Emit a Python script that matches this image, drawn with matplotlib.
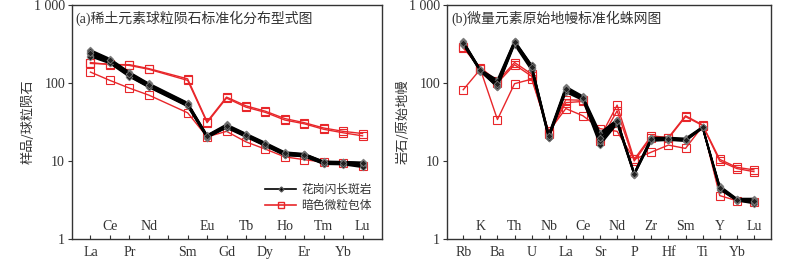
import matplotlib
matplotlib.use("Agg")
import matplotlib.pyplot as plt
import matplotlib.transforms as mtransforms
from matplotlib.lines import Line2D

# ---------------- data ----------------
ree_positions = [0, 1, 2, 3, 5, 6, 7, 8, 9, 10, 11, 12, 13, 14]   # Pm slot (4) left empty
ree_elems = ["La", "Ce", "Pr", "Nd", "Sm", "Eu", "Gd", "Tb", "Dy", "Ho", "Er", "Tm", "Yb", "Lu"]

ree_gdp = [
    [265, 205, 138, 99, 56, 21.5, 29.5, 22.5, 17.2, 13.0, 12.4, 9.9, 9.8, 9.6],
    [250, 198, 133, 96, 55, 21.0, 28.5, 22.0, 16.8, 12.7, 12.2, 9.7, 9.6, 9.4],
    [240, 192, 128, 93, 53, 20.5, 28.0, 21.5, 16.4, 12.4, 12.0, 9.5, 9.5, 9.2],
    [232, 188, 125, 91, 52, 20.0, 27.5, 21.0, 16.0, 12.1, 11.7, 9.3, 9.3, 9.0],
    [225, 182, 122, 89, 51, 19.8, 27.0, 20.6, 15.7, 11.9, 11.5, 9.2, 9.1, 8.6],
    [258, 200, 135, 97, 54, 21.2, 28.8, 21.8, 16.6, 12.6, 12.3, 9.8, 9.7, 9.5],
    [218, 178, 120, 88, 50, 20.2, 26.5, 20.3, 15.5, 11.8, 11.4, 9.1, 9.0, 8.3],
    [245, 195, 130, 95, 54, 20.8, 28.2, 21.6, 16.5, 12.5, 12.1, 9.6, 9.4, 9.3],
]
ree_mme = [
    [183, 172, 172, 153, 113, 32, 66, 51, 43.5, 35, 31, 26.5, 24, 22.5],
    [178, 175, 168, 150, 108, 31, 64, 49, 42, 33.5, 30, 25.5, 23, 21],
    [138, 108, 86, 70, 41.5, 20.4, 24, 17.6, 14.2, 11.3, 10.4, 9.7, 9.3, 8.6],
]

te_elems = ["Rb", "K", "Ba", "Th", "U", "Nb", "La", "Ce", "Sr", "Nd", "P", "Zr", "Hf", "Sm", "Ti", "Y", "Yb", "Lu"]
te_gdp = [
    [345, 148, 110, 350, 170, 22, 90, 68, 23, 34, 7.0, 20, 20, 19.5, 27.5, 4.8, 3.3, 3.3],
    [335, 146, 102, 340, 165, 21, 87, 66, 21, 33, 6.9, 19.5, 19.5, 19.0, 27, 4.6, 3.25, 3.2],
    [325, 143, 95, 330, 158, 20.5, 83, 64, 19, 32, 6.8, 19, 19, 18.5, 27, 4.5, 3.2, 3.1],
    [315, 140, 90, 320, 150, 20, 79, 62, 17, 31, 6.7, 18.5, 18.7, 18.2, 26.5, 4.4, 3.15, 3.0],
    [310, 142, 88, 310, 145, 19.5, 76, 60, 16, 30, 6.6, 18, 18.5, 18.0, 26.5, 4.3, 3.1, 2.85],
    [340, 150, 105, 345, 168, 21.5, 85, 65, 22, 33.5, 7.0, 19.8, 19.2, 18.8, 27.2, 4.7, 3.2, 3.15],
    [320, 144, 92, 325, 155, 19.8, 80, 63, 18, 31.5, 6.75, 18.8, 18.8, 18.4, 26.8, 4.45, 3.1, 2.95],
    [330, 147, 98, 335, 162, 20.8, 84, 64.5, 20, 32.5, 6.85, 19.2, 19.1, 18.6, 27.1, 4.55, 3.2, 3.1],
]
te_mme = [
    [82, 150, 34, 98, 112, 24, 47, 38, 26, 24, 10.5, 13, 16, 14.5, 28, 3.6, 3.1, 3.0],
    [280, 158, 105, 183, 130, 23, 61, 60, 20, 52, 10.5, 21, 20, 38, 29, 10.5, 8.3, 7.7],
    [290, 152, 100, 172, 122, 22, 56, 58, 18, 44, 10.0, 20, 19.5, 37, 28.5, 10.0, 8.0, 7.3],
]

legend_labels = ["花岗闪长斑岩", "暗色微粒包体"]
titles = ["(a)稀土元素球粒陨石标准化分布型式图", "(b)微量元素原始地幔标准化蛛网图"]
ylabels = ["样品/球粒陨石", "岩石/原始地幔"]
yticks = [1, 10, 100, 1000]
ytick_labels = ["1", "10", "100", "1 000"]

# ---------------- style ----------------
CJK = ["Noto Sans CJK SC", "DejaVu Sans"]
SERIF = "Liberation Serif"
plt.rcParams["font.family"] = [SERIF, "Noto Sans CJK SC"]
TXT = "#333333"
RED = "#e8262a"

fig = plt.figure(figsize=(8.09, 2.63), dpi=100)
axa = fig.add_axes([72 / 809, 24 / 263, 310 / 809, 234 / 263])
axb = fig.add_axes([447 / 809, 24 / 263, 324 / 809, 234 / 263])


def style_axis(ax, positions, elems, nslots, title, ylabel, label_x):
    ax.set_yscale("log")
    ax.set_ylim(1, 1000)
    ax.set_xlim(-0.95, nslots)
    ax.set_yticks(yticks)
    ax.set_yticklabels(ytick_labels, fontsize=10, color=TXT, family=SERIF)
    ax.yaxis.set_minor_locator(matplotlib.ticker.NullLocator())
    ax.tick_params(axis="y", direction="out", length=3, width=0.8, color=TXT, pad=2)
    ax.set_xticks(range(nslots))
    ax.set_xticklabels([""] * nslots)
    ax.tick_params(axis="x", direction="in", length=3, width=0.8, color=TXT, pad=3)
    trans = mtransforms.blended_transform_factory(ax.transData, ax.transAxes)
    for i, (p, lab) in enumerate(zip(positions, elems)):
        if i % 2 == 1:
            ax.text(p, 0.025, lab, transform=trans, ha="center", va="bottom",
                    fontsize=10, color=TXT, family=SERIF)
        else:
            ax.text(p, -0.03, lab, transform=trans, ha="center", va="top",
                    fontsize=10, color=TXT, family=SERIF)
    for sp in ax.spines.values():
        sp.set_color(TXT)
        sp.set_linewidth(1.0)
    ax.text(0.012, 0.975, title, transform=ax.transAxes, ha="left", va="top",
            fontsize=10, color=TXT, family=[SERIF, "Noto Sans CJK SC"])
    ax.set_ylabel(ylabel, fontsize=9.5, color=TXT, family=CJK)
    ax.yaxis.set_label_coords(label_x, 0.5)


# panel a
for s in ree_mme:
    axa.plot(ree_positions, s, color=RED, lw=1.0, marker="s", ms=5.5, mfc="none", mec=RED, mew=0.8, zorder=2)
for s in ree_gdp:
    axa.plot(ree_positions, s, color="black", lw=1.2, marker="D", ms=3.5, mfc="#222222", mec="#888888", mew=0.5, zorder=3)
style_axis(axa, ree_positions, ree_elems, 15, titles[0], ylabels[0], -0.12)

h1 = Line2D([], [], color="black", lw=1.2, marker="D", ms=2.5, mfc="black", mec="#555555")
h2 = Line2D([], [], color=RED, lw=1.2, marker="s", ms=4, mfc="none", mec=RED)
leg = axa.legend([h1, h2], legend_labels, loc="lower right", bbox_to_anchor=(1.0, 0.07),
                 frameon=False, handlelength=2.6, handletextpad=0.4, labelspacing=0.25,
                 prop={"family": CJK, "size": 8.5})
for t in leg.get_texts():
    t.set_color(TXT)

# panel b
te_positions = list(range(len(te_elems)))
for s in te_mme:
    axb.plot(te_positions, s, color=RED, lw=1.0, marker="s", ms=5.5, mfc="none", mec=RED, mew=0.8, zorder=2)
for s in te_gdp:
    axb.plot(te_positions, s, color="black", lw=1.2, marker="D", ms=3.5, mfc="#222222", mec="#888888", mew=0.5, zorder=3)
style_axis(axb, te_positions, te_elems, len(te_elems), titles[1], ylabels[1], -0.115)

fig.savefig("out.png", dpi=100)
